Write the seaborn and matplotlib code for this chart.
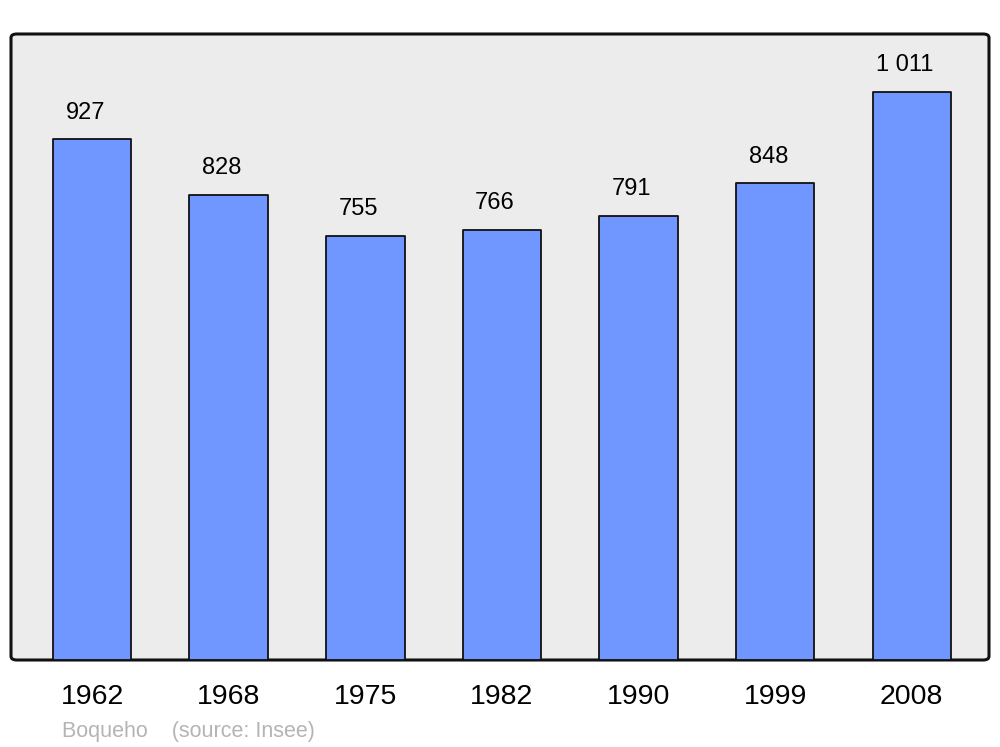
import matplotlib
matplotlib.use("Agg")
import matplotlib.pyplot as plt
import seaborn as sns
import pandas as pd
from matplotlib.patches import FancyBboxPatch

years = ["1962", "1968", "1975", "1982", "1990", "1999", "2008"]
population = [927, 828, 755, 766, 791, 848, 1011]
footer = "Boqueho    (source: Insee)"

sns.set_theme(style="white")
plt.rcParams["font.family"] = ["Liberation Sans", "DejaVu Sans"]

df = pd.DataFrame({"year": years, "pop": population})

fig = plt.figure(figsize=(10, 7.47), dpi=100)
ax = fig.add_axes([11/1000, 1 - 660/747, 978/1000, 626/747])
ax.set_facecolor("none")

bg = FancyBboxPatch((0, 0), 1, 1, boxstyle="round,pad=0,rounding_size=0.006",
                    transform=ax.transAxes, facecolor="#ececec", edgecolor="#111111",
                    linewidth=2.2, clip_on=False, zorder=0)
ax.add_patch(bg)

sns.barplot(data=df, x="year", y="pop", color="#7096ff", saturation=1,
            width=0.575, edgecolor="#111111", linewidth=1.3, ax=ax, zorder=2)
for p in ax.patches:
    if p is not bg:
        p.set_joinstyle("round")

ax.set_xlim(-0.593, 6.565)
ax.set_ylim(0, 1114)
for s in ax.spines.values():
    s.set_visible(False)
ax.set_yticks([])
ax.set_xlabel("")
ax.set_ylabel("")
ax.tick_params(axis="x", length=0, pad=17.5, labelsize=20.5, labelcolor="black")

for i, v in enumerate(population):
    label = f"{v:,}".replace(",", " ")
    ax.text(i - 0.05, v + 47, label, ha="center", va="center", fontsize=17, color="black")

fig.text(62/1000, 1 - 731.5/747, footer, ha="left", va="center", fontsize=15.5, color="#b4b4b4")

fig.savefig("out.png", dpi=100, facecolor="white")
